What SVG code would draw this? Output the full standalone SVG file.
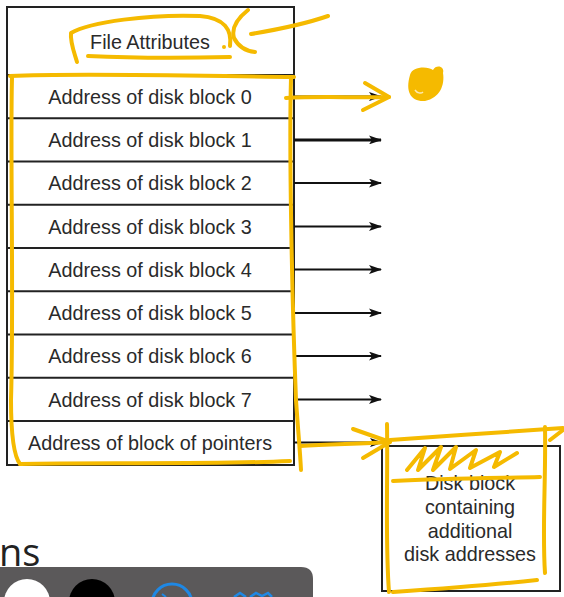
<svg xmlns="http://www.w3.org/2000/svg" width="564" height="597" viewBox="0 0 564 597">
<style>
.frame{fill:#fff;stroke:#222;stroke-width:2}
.sep{stroke:#222;stroke-width:2}
.lbl{font-family:"Liberation Sans",Arial,sans-serif;font-size:19.8px;fill:#2a2a2a;text-anchor:middle}
.conn{stroke:#111;stroke-width:2;fill:none;marker-end:url(#ah)}
.hl{fill:none;stroke:#F5BA00;stroke-width:4;stroke-linecap:round;stroke-linejoin:round}
</style>
<defs>
<marker id="ah" markerWidth="13" markerHeight="9" refX="12" refY="4.5" orient="auto" markerUnits="userSpaceOnUse">
<path d="M0,0 L13,4.5 L0,9 L3,4.5 Z" fill="#111"/>
</marker>
</defs>
<rect width="564" height="597" fill="#fff"/>

<g id="inode">
<rect class="frame" x="7" y="7" width="287" height="458"/>
<line class="sep" x1="7" y1="75" x2="294" y2="75"/>
<line class="sep" x1="7" y1="118.25" x2="294" y2="118.25"/>
<line class="sep" x1="7" y1="161.5" x2="294" y2="161.5"/>
<line class="sep" x1="7" y1="204.75" x2="294" y2="204.75"/>
<line class="sep" x1="7" y1="248" x2="294" y2="248"/>
<line class="sep" x1="7" y1="291.25" x2="294" y2="291.25"/>
<line class="sep" x1="7" y1="334.5" x2="294" y2="334.5"/>
<line class="sep" x1="7" y1="377.75" x2="294" y2="377.75"/>
<line class="sep" x1="7" y1="421" x2="294" y2="421"/>
</g>
<g id="row-attr"><text class="lbl" x="150" y="49">File Attributes</text></g>
<g id="row-0"><text class="lbl" x="150" y="103.8">Address of disk block 0</text></g>
<g id="row-1"><text class="lbl" x="150" y="147.1">Address of disk block 1</text></g>
<g id="row-2"><text class="lbl" x="150" y="190.3">Address of disk block 2</text></g>
<g id="row-3"><text class="lbl" x="150" y="233.6">Address of disk block 3</text></g>
<g id="row-4"><text class="lbl" x="150" y="276.8">Address of disk block 4</text></g>
<g id="row-5"><text class="lbl" x="150" y="320.1">Address of disk block 5</text></g>
<g id="row-6"><text class="lbl" x="150" y="363.3">Address of disk block 6</text></g>
<g id="row-7"><text class="lbl" x="150" y="406.6">Address of disk block 7</text></g>
<g id="row-ptr"><text class="lbl" x="150" y="449.8">Address of block of pointers</text></g>

<g id="diskblock">
<rect class="frame" x="382" y="446" width="178" height="145"/>
<text class="lbl" x="470" y="490">Disk block</text>
<text class="lbl" x="470" y="514">containing</text>
<text class="lbl" x="470" y="537.5">additional</text>
<text class="lbl" x="470" y="561">disk addresses</text>
</g>

<g id="connectors">
<line class="conn" x1="294" y1="96.6" x2="381" y2="96.6"/>
<line class="conn" x1="294" y1="139.9" x2="381" y2="139.9" style="stroke-width:3"/>
<line class="conn" x1="294" y1="183.1" x2="381" y2="183.1"/>
<line class="conn" x1="294" y1="226.4" x2="381" y2="226.4"/>
<line class="conn" x1="294" y1="269.6" x2="381" y2="269.6"/>
<line class="conn" x1="294" y1="312.9" x2="381" y2="312.9"/>
<line class="conn" x1="294" y1="356.1" x2="381" y2="356.1"/>
<line class="conn" x1="294" y1="399.4" x2="381" y2="399.4"/>
<line class="conn" x1="294" y1="442.6" x2="382" y2="442.6"/>
</g>

<g id="annotations">
<path class="hl" d="M77,62 C74,52 70,42 71,33 C90,22 150,14 200,16 C225,18 232,30 230,46"/>
<path class="hl" d="M88,56 C130,58 190,58 230,57"/>
<circle cx="224" cy="47" r="2" fill="#F5BA00"/>
<path class="hl" d="M248,10 C238,18 231,28 234,38 C238,46 246,51 255,52"/>
<path class="hl" d="M251,34 C275,30 305,24 328,16"/>
<path class="hl" d="M10,76 C80,73 200,76 294,77"/>
<path class="hl" d="M12,78 C10,150 14,300 11,400 C11,430 13,455 20,464"/>
<path class="hl" d="M20,464 C100,462 200,465 290,461"/>
<path class="hl" d="M291,78 C289,150 292,300 296,400 C298,430 300,450 301,470"/>
<path class="hl" d="M286,98 C320,96 355,98 389,97"/>
<path class="hl" d="M365,83 L389,97 L363,110"/>
<path d="M410,75 C412,66 428,66 433,70 C436,64 445,66 443,73 C445,85 440,98 425,101 C411,102 405,92 410,75 Z" fill="#F5BA00"/>
<path d="M415,90 C417,93 421,94 423,92" stroke="#fff" stroke-width="1.5" fill="none" opacity="0.7"/>
<path class="hl" d="M300,446 C330,444 360,444 390,442"/>
<path class="hl" d="M353,429 L390,442 L363,458"/>
<path class="hl" d="M387,424 C388,480 385,540 389,592"/>
<path class="hl" d="M390,440 C450,436 500,432 563,428"/>
<path class="hl" d="M550,440 L563,430"/>
<path class="hl" d="M545,427 C546,480 542,530 545,573"/>
<path class="hl" d="M393,481 C450,478 500,478 540,477"/>
<path class="hl" d="M393,592 C450,588 500,584 537,580"/>
<path class="hl" d="M407,470 L425,448 L418,470 L441,447 L433,470 L456,447 L450,469 L476,450 L470,468 L500,452 L494,467 L517,453"/>
</g>

<g id="player">
<text x="-1" y="566" style="font-family:'Open Sans','Liberation Sans',sans-serif;font-size:38px;fill:#222">ns</text>
<path d="M0,567 L301,567 Q313,567 313,579 L313,597 L0,597 Z" fill="#5b595a"/>
<circle cx="27" cy="602" r="23" fill="#fff"/>
<circle cx="92" cy="602" r="23" fill="#000"/>
<circle cx="172" cy="604" r="20" fill="none" stroke="#1e88e5" stroke-width="3"/>
<path d="M166,597 L162,594" stroke="#1e88e5" stroke-width="2"/>
<path d="M234,597 L240,593 L246,597 M250,597 L256,593 L262,596 L268,593 L272,597" stroke="#1e88e5" stroke-width="2.5" fill="none"/>
</g>
</svg>
